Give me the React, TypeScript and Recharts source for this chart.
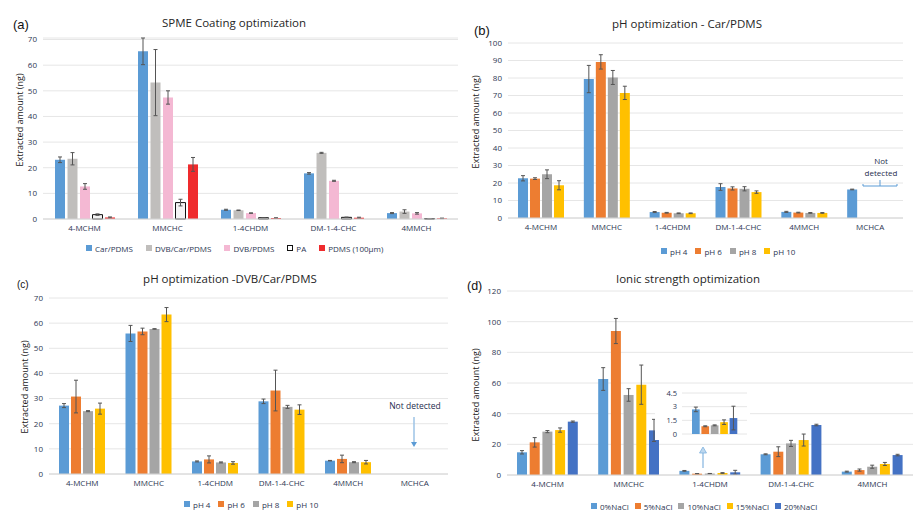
import React from "react";
import { BarChart, Bar, XAxis, YAxis, CartesianGrid, ErrorBar } from "recharts";

const W = 917;
const H = 523;
const FONT = '"Open Sans", "Noto Sans", sans-serif';
const TICK = "#2C3652";

// (a) SPME coating optimization
const coatCats = ["4-MCHM", "MMCHC", "1-4CHDM", "DM-1-4-CHC", "4MMCH"];
const coatCar = [23.1, 65.4, 3.6, 17.8, 2.3];
const coatCarErr = [1.1, 5.2, 0.2, 0.3, 0.2];
const coatDvbCar = [23.5, 53.2, 3.4, 25.8, 2.9];
const coatDvbCarErr = [2.4, 12.9, 0.1, 0.2, 0.7];
const coatDvb = [12.7, 47.4, 2.3, 14.9, 2.2];
const coatDvbErr = [1.1, 2.6, 0.1, 0.2, 0.3];
const coatPa = [1.7, 6.4, 0.5, 0.65, 0.15];
const coatPaErr = [0.3, 1.3, 0.05, 0.1, 0.05];
const coatPdms = [0.6, 21.3, 0.4, 0.5, 0.25];
const coatPdmsErr = [0.2, 2.7, 0.05, 0.2, 0.1];
const coatTicks = [0, 10, 20, 30, 40, 50, 60, 70];

// (b) pH optimization - Car/PDMS
const phCats = ["4-MCHM", "MMCHC", "1-4CHDM", "DM-1-4-CHC", "4MMCH", "MCHCA"];
const carPh4 = [22.7, 79.4, 3.4, 17.7, 3.5, 16.3];
const carPh4Err = [1.5, 7.8, 0.3, 1.9, 0.3, 0.2];
const carPh6 = [22.5, 89.2, 3.0, 16.9, 3.1, null];
const carPh6Err = [0.5, 4.1, 0.2, 0.9, 0.2, null];
const carPh8 = [25.0, 80.3, 2.7, 16.7, 2.9, null];
const carPh8Err = [2.5, 4.0, 0.2, 1.2, 0.2, null];
const carPh10 = [18.7, 71.5, 2.7, 14.8, 2.9, null];
const carPh10Err = [2.6, 3.8, 0.2, 0.7, 0.2, null];
const carTicks = [0, 10, 20, 30, 40, 50, 60, 70, 80, 90, 100];

// (c) pH optimization - DVB/Car/PDMS
const dvbPh4 = [27.2, 55.9, 5.0, 28.9, 5.3, null];
const dvbPh4Err = [0.8, 3.2, 0.2, 0.9, 0.1, null];
const dvbPh6 = [30.8, 56.7, 5.8, 33.2, 6.0, null];
const dvbPh6Err = [6.5, 1.3, 1.4, 8.1, 1.5, null];
const dvbPh8 = [25.0, 57.7, 4.6, 26.7, 4.7, null];
const dvbPh8Err = [0.2, 0.1, 0.2, 0.6, 0.2, null];
const dvbPh10 = [26.0, 63.4, 4.4, 25.6, 4.7, null];
const dvbPh10Err = [2.2, 2.8, 0.5, 1.9, 0.7, null];
const dvbTicks = [0, 10, 20, 30, 40, 50, 60, 70];

// (d) ionic strength optimization
const salt0 = [14.8, 62.6, 2.7, 13.5, 2.2];
const salt0Err = [1.1, 7.4, 0.25, 0.3, 0.3];
const salt5 = [21.3, 93.9, 0.85, 15.2, 3.2];
const salt5Err = [3.1, 8.2, 0.05, 3.2, 0.7];
const salt10 = [28.3, 52.2, 0.95, 20.6, 5.4];
const salt10Err = [0.7, 4.1, 0.05, 2.0, 1.0];
const salt15 = [29.3, 58.9, 1.3, 22.8, 7.2];
const salt15Err = [1.4, 12.8, 0.25, 3.9, 1.0];
const salt20 = [34.8, 29.1, 1.75, 32.6, 13.0];
const salt20Err = [0.4, 7.2, 1.3, 0.5, 0.5];
const saltTicks = [0, 20, 40, 60, 80, 100, 120];
const insetTicks = [0, 1.5, 3, 4.5];
const insetIndex = 2; // 1-4CHDM

const BLUE = "#5B9BD5";
const ORANGE = "#ED7D31";
const GRAY = "#A5A5A5";
const YELLOW = "#FFC000";
const NAVY = "#4472C4";

type Series = {
  key: string;
  name: string;
  values: (number | null)[];
  errors: (number | null)[];
  fill: string;
  stroke?: string;
};

const coatSeries: Series[] = [
  { key: "car", name: "Car/PDMS", values: coatCar, errors: coatCarErr, fill: BLUE },
  { key: "dvbcar", name: "DVB/Car/PDMS", values: coatDvbCar, errors: coatDvbCarErr, fill: "#C0BEBC" },
  { key: "dvb", name: "DVB/PDMS", values: coatDvb, errors: coatDvbErr, fill: "#F4B8D3" },
  { key: "pa", name: "PA", values: coatPa, errors: coatPaErr, fill: "#F4F4F4", stroke: "#111" },
  { key: "pdms", name: "PDMS (100\u00b5m)", values: coatPdms, errors: coatPdmsErr, fill: "#EF2B2D" },
];

const carSeries: Series[] = [
  { key: "p4", name: "pH 4", values: carPh4, errors: carPh4Err, fill: BLUE },
  { key: "p6", name: "pH 6", values: carPh6, errors: carPh6Err, fill: ORANGE },
  { key: "p8", name: "pH 8", values: carPh8, errors: carPh8Err, fill: GRAY },
  { key: "p10", name: "pH 10", values: carPh10, errors: carPh10Err, fill: YELLOW },
];

const dvbSeries: Series[] = [
  { key: "p4", name: "pH 4", values: dvbPh4, errors: dvbPh4Err, fill: BLUE },
  { key: "p6", name: "pH 6", values: dvbPh6, errors: dvbPh6Err, fill: ORANGE },
  { key: "p8", name: "pH 8", values: dvbPh8, errors: dvbPh8Err, fill: GRAY },
  { key: "p10", name: "pH 10", values: dvbPh10, errors: dvbPh10Err, fill: YELLOW },
];

const saltSeries: Series[] = [
  { key: "s0", name: "0%NaCl", values: salt0, errors: salt0Err, fill: BLUE },
  { key: "s5", name: "5%NaCl", values: salt5, errors: salt5Err, fill: ORANGE },
  { key: "s10", name: "10%NaCl", values: salt10, errors: salt10Err, fill: GRAY },
  { key: "s15", name: "15%NaCl", values: salt15, errors: salt15Err, fill: YELLOW },
  { key: "s20", name: "20%NaCl", values: salt20, errors: salt20Err, fill: NAVY },
];

function buildRows(cats: string[], series: Series[]) {
  return cats.map((c, i) => {
    const row: any = { cat: c };
    series.forEach((s) => {
      row[s.key] = s.values[i];
      row[s.key + "Err"] = s.errors[i];
    });
    return row;
  });
}

const tickStyle = { fontSize: 8, fill: TICK, fontFamily: FONT };

function Panel({
  rows,
  series,
  plot,
  ticks,
  barSize,
  barGap,
}: {
  rows: any[];
  series: Series[];
  plot: { left: number; top: number; right: number; bottom: number };
  ticks: number[];
  barSize: number;
  barGap: number;
}) {
  const yw = 40;
  const xh = 20;
  return (
    <div style={{ position: "absolute", left: 0, top: 0 }}>
      <BarChart
        width={W}
        height={H}
        data={rows}
        barSize={barSize}
        barGap={barGap}
        margin={{
          top: plot.top,
          left: plot.left - yw,
          right: W - plot.right,
          bottom: H - plot.bottom - xh,
        }}
      >
        <CartesianGrid vertical={false} stroke="#E6E6E6" />
        <XAxis
          dataKey="cat"
          height={xh}
          interval={0}
          tickLine={false}
          tickSize={0}
          tickMargin={6}
          axisLine={{ stroke: "#D4D4D4" }}
          tick={tickStyle}
        />
        <YAxis
          width={yw}
          domain={[0, ticks[ticks.length - 1]]}
          ticks={ticks}
          interval={0}
          axisLine={false}
          tickLine={false}
          tickSize={0}
          tickMargin={6}
          tick={tickStyle}
        />
        {series.map((s) => (
          <Bar
            key={s.key}
            dataKey={s.key}
            name={s.name}
            fill={s.fill}
            stroke={s.stroke}
            strokeWidth={s.stroke ? 1 : 0}
            isAnimationActive={false}
          >
            <ErrorBar dataKey={s.key + "Err"} width={2} stroke="#555" strokeWidth={1} />
          </Bar>
        ))}
      </BarChart>
    </div>
  );
}

function LegendRow({ left, y, gap, items }: { left: number; y: number; gap: number; items: Series[] }) {
  return (
    <div
      style={{
        position: "absolute",
        left,
        top: y - 6,
        height: 12,
        display: "flex",
        alignItems: "center",
        gap,
        fontFamily: FONT,
        fontSize: 8,
        color: TICK,
        whiteSpace: "nowrap",
      }}
    >
      {items.map((s) => (
        <div key={s.key} style={{ display: "flex", alignItems: "center", gap: 3 }}>
          <span
            style={{
              width: s.stroke ? 4 : 6,
              height: s.stroke ? 4 : 6,
              background: s.stroke ? "#fff" : s.fill,
              border: s.stroke ? `1px solid ${s.stroke}` : "none",
              display: "inline-block",
            }}
          />
          <span>{s.name}</span>
        </div>
      ))}
    </div>
  );
}

export default function App() {
  const coatRows = buildRows(coatCats, coatSeries);
  const carRows = buildRows(phCats, carSeries);
  const dvbRows = buildRows(phCats, dvbSeries);
  const saltRows = buildRows(coatCats, saltSeries);
  const insetRows = [saltRows[insetIndex]];

  const title = { fontFamily: FONT, fontSize: 11.5, fill: "#262626", textAnchor: "middle" as const };
  const ylab = { fontFamily: FONT, fontSize: 9, fill: "#222", textAnchor: "middle" as const };
  const letter = { fontFamily: '"Liberation Sans", Arial, sans-serif', fill: "#111" };
  const note = { fontFamily: FONT, fontSize: 8, fill: "#1F2D4E", textAnchor: "middle" as const };

  return (
    <div style={{ position: "absolute", left: 0, top: 0, width: W, height: H, background: "#fff", overflow: "hidden" }}>
      <Panel rows={coatRows} series={coatSeries} plot={{ left: 43, top: 38, right: 458, bottom: 219 }} ticks={coatTicks} barSize={10} barGap={2.5} />
      <Panel rows={carRows} series={carSeries} plot={{ left: 508, top: 43, right: 903, bottom: 218 }} ticks={carTicks} barSize={10} barGap={2} />
      <Panel rows={dvbRows} series={dvbSeries} plot={{ left: 49, top: 298, right: 448, bottom: 474 }} ticks={dvbTicks} barSize={10} barGap={2} />
      <Panel rows={saltRows} series={saltSeries} plot={{ left: 507, top: 291, right: 913, bottom: 475 }} ticks={saltTicks} barSize={10} barGap={2.7} />

      {/* inset of the 1-4CHDM group */}
      <div style={{ position: "absolute", left: 655, top: 385, width: 95, height: 55, background: "#fff" }}>
        <BarChart width={95} height={55} data={insetRows} barSize={7.7} barGap={1.7} margin={{ top: 8, left: 5, right: 3, bottom: 6 }}>
          <CartesianGrid vertical={false} stroke="#E6E6E6" />
          <XAxis dataKey="cat" hide />
          <YAxis
            width={22}
            domain={[0, 4.5]}
            ticks={insetTicks}
            interval={0}
            axisLine={false}
            tickLine={false}
            tickSize={0}
            tickMargin={5}
            tick={{ fontSize: 7.5, fill: TICK, fontFamily: FONT }}
          />
          {saltSeries.map((s) => (
            <Bar key={s.key} dataKey={s.key} fill={s.fill} isAnimationActive={false}>
              <ErrorBar dataKey={s.key + "Err"} width={2} stroke="#555" strokeWidth={1} />
            </Bar>
          ))}
        </BarChart>
      </div>

      <svg width={W} height={H} style={{ position: "absolute", left: 0, top: 0 }}>
        <text x={13} y={29} fontSize={13} {...letter}>(a)</text>
        <text x={474} y={35} fontSize={13} {...letter}>(b)</text>
        <text x={17} y={288} fontSize={10} {...letter}>(c)</text>
        <text x={467} y={290} fontSize={12.5} {...letter}>(d)</text>

        <text x={234} y={27} {...title}>SPME Coating optimization</text>
        <text x={687} y={28} {...title}>pH optimization - Car/PDMS</text>
        <text x={230} y={283} {...title}>pH optimization -DVB/Car/PDMS</text>
        <text x={688} y={283} {...title}>Ionic strength optimization</text>

        <text transform="translate(23,120) rotate(-90)" {...ylab}>Extracted amount (ng)</text>
        <text transform="translate(479,122) rotate(-90)" {...ylab}>Extracted amount (ng)</text>
        <text transform="translate(28,387) rotate(-90)" {...ylab}>Extracted amount (ng)</text>
        <text transform="translate(479,395) rotate(-90)" {...ylab}>Extracted amount (ng)</text>

        {/* (b) not detected bracket */}
        <text x={881} y={164} {...note}>Not</text>
        <text x={881} y={175.5} {...note}>detected</text>
        <path d="M863,184 L863,186 L897,186 L897,184 M880,186 L880,180" stroke={BLUE} strokeWidth={1} fill="none" />

        {/* (c) not detected arrow */}
        <text x={415} y={409} {...note} fontSize={8.5}>Not detected</text>
        <line x1={414} y1={417} x2={414} y2={443} stroke="#9DC3E6" strokeWidth={1.5} />
        <path d="M411,442 L417,442 L414,447 Z" fill={BLUE} />

        {/* (d) inset arrow */}
        <line x1={703} y1={468} x2={703} y2={452} stroke="#9DC3E6" strokeWidth={1.5} />
        <path d="M699.5,453 L706.5,453 L703,447 Z" fill="#BDD7EE" stroke="#7FB1DE" strokeWidth={0.8} />
      </svg>

      <LegendRow left={86} y={248} gap={13} items={coatSeries} />
      <LegendRow left={661} y={251} gap={8} items={carSeries} />
      <LegendRow left={184} y={504} gap={8} items={dvbSeries} />
      <LegendRow left={591} y={506} gap={6} items={saltSeries} />
    </div>
  );
}
